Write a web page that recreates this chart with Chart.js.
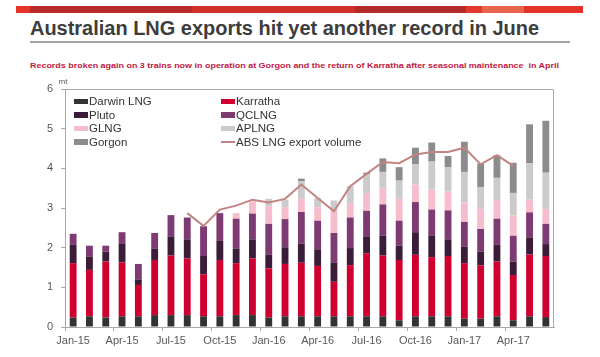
<!DOCTYPE html>
<html>
<head>
<meta charset="utf-8">
<script src="https://cdn.jsdelivr.net/npm/chart.js@4"></script>
<style>
  html, body { margin:0; padding:0; background:#fff; }
  body { width:600px; height:357px; position:relative; overflow:hidden; font-family:"Liberation Sans", Arial, sans-serif; }
  #band { position:absolute; left:16px; top:6px; width:567px; height:7px;
    background: linear-gradient(to right, #e5332a 0px, #e5332a 14px, #b92b2b 14px, #b92b2b 176px, #cf3029 176px, #cf3029 339px, #b42b2b 339px, #b42b2b 450px, #e3382c 450px, #e3382c 466px, #e8654d 466px, #e8654d 508px, #e5332a 508px); }
  #title { position:absolute; left:30px; top:18.4px; font-size:20px; line-height:20px; font-weight:bold; color:#3d3d3d; white-space:nowrap; transform-origin:0 0; }
  #rule { position:absolute; left:30px; top:41px; width:540px; height:1.5px; background:#a3a3a3; }
  #sub { position:absolute; left:30px; top:61.5px; font-size:7.5px; line-height:8px; font-weight:bold; color:#c2173f; white-space:nowrap; transform-origin:0 0; }
  #unit { position:absolute; left:58.5px; top:77px; font-size:8px; line-height:9px; color:#555; }
  #wrap { position:absolute; left:0; top:0; width:600px; height:357px; }
  #legend { position:absolute; left:0; top:0; }
  .li { position:absolute; height:14px; font-size:11.5px; line-height:14px; color:#333; white-space:nowrap; }
  .sw { position:absolute; left:0; top:4.5px; width:14px; height:5.5px; }
  .ln { position:absolute; left:0; top:6.5px; width:14px; height:1.5px; }
  .lt { position:absolute; left:15px; top:0; }
</style>
</head>
<body>
<div id="band"></div>
<div id="title">Australian LNG exports hit yet another record in June</div>
<div id="rule"></div>
<div id="sub">Records broken again on 3 trains now in operation at Gorgon and the return of Karratha after seasonal maintenance&nbsp; in April</div>
<div id="wrap"><canvas id="c" width="600" height="357"></canvas></div>
<div id="unit">mt</div>
<div id="legend"></div>
<script>
// ---- data ----
const months = ["Jan-15","Feb-15","Mar-15","Apr-15","May-15","Jun-15","Jul-15","Aug-15","Sep-15","Oct-15","Nov-15","Dec-15",
  "Jan-16","Feb-16","Mar-16","Apr-16","May-16","Jun-16","Jul-16","Aug-16","Sep-16","Oct-16","Nov-16","Dec-16",
  "Jan-17","Feb-17","Mar-17","Apr-17","May-17","Jun-17"];
const darwinLNG = [0.24,0.27,0.24,0.27,0.27,0.30,0.30,0.30,0.27,0.27,0.30,0.30,0.24,0.27,0.27,0.27,0.27,0.27,0.27,0.27,0.17,0.27,0.27,0.27,0.21,0.21,0.27,0.17,0.27,0.25];
const karratha  = [1.37,1.17,1.41,1.36,0.79,1.39,1.50,1.43,1.06,1.42,1.31,1.43,1.24,1.32,1.35,1.27,0.87,1.29,1.59,1.53,1.52,1.55,1.49,1.52,1.40,1.34,1.38,1.14,1.56,1.54];
const pluto     = [0.46,0.34,0.25,0.48,0.14,0.28,0.47,0.48,0.46,0.48,0.36,0.48,0.34,0.42,0.48,0.42,0.49,0.43,0.41,0.50,0.36,0.57,0.55,0.42,0.42,0.35,0.42,0.34,0.43,0.30];
const qclng     = [0.28,0.27,0.15,0.28,0.39,0.40,0.55,0.55,0.75,0.70,0.76,0.65,0.78,0.71,0.80,0.72,0.74,0.77,0.66,0.79,0.63,0.76,0.65,0.73,0.62,0.57,0.66,0.65,0.63,0.51];
const glng      = [0,0,0,0,0,0,0,0,0,0,0.14,0.31,0.44,0.30,0.33,0.34,0.57,0.37,0.45,0.42,0.55,0.44,0.51,0.47,0.49,0.51,0.47,0.51,0.32,0.38];
const aplng     = [0,0,0,0,0,0,0,0,0,0,0,0,0.19,0.19,0.45,0.23,0.25,0.42,0.47,0.40,0.46,0.51,0.70,0.62,0.77,0.55,0.56,0.57,0.92,0.91];
const gorgon    = [0,0,0,0,0,0,0,0,0,0,0,0,0,0,0.06,0,0,0,0.04,0.34,0.34,0.42,0.48,0.28,0.76,0.59,0.57,0.76,0.98,1.31];
const absVolume = [null,null,null,null,null,null,null,2.87,2.55,2.96,3.06,3.21,3.14,3.23,3.59,3.25,2.92,3.55,3.86,4.16,4.13,4.35,4.41,4.41,4.52,4.10,4.33,4.06,null,null];
const yTicks = [0,1,2,3,4,5,6];
const xTickLabels = ["Jan-15","Apr-15","Jul-15","Oct-15","Jan-16","Apr-16","Jul-16","Oct-16","Jan-17","Apr-17"];

const barSeries = [
  {label:"Darwin LNG", data:darwinLNG, color:"#333333"},
  {label:"Karratha",   data:karratha,  color:"#cf0030"},
  {label:"Pluto",      data:pluto,     color:"#3b1c39"},
  {label:"QCLNG",      data:qclng,     color:"#7e3a72"},
  {label:"GLNG",       data:glng,      color:"#f6bdcc"},
  {label:"APLNG",      data:aplng,     color:"#cbcbcb"},
  {label:"Gorgon",     data:gorgon,    color:"#8c8c8c"}
];
const lineSeries = {label:"ABS LNG export volume", data:absVolume, color:"#c38383"};

const datasets = barSeries.map(s => ({
  type:'bar', label:s.label, data:s.data, backgroundColor:s.color, borderWidth:0,
  stack:'s', order:1, barPercentage:0.42, categoryPercentage:1.0
}));
datasets.push({
  type:'line', label:lineSeries.label, data:lineSeries.data, borderColor:lineSeries.color,
  borderWidth:2, pointRadius:0, fill:false, tension:0, order:0, spanGaps:false
});

const frame = {
  id:'frame',
  afterDraw(chart){
    const {ctx, chartArea:a} = chart;
    ctx.save();
    ctx.strokeStyle = '#a8a8a8';
    ctx.lineWidth = 1;
    ctx.beginPath();
    ctx.moveTo(a.left, a.top + 0.5);
    ctx.lineTo(a.right - 0.5, a.top + 0.5);
    ctx.lineTo(a.right - 0.5, a.bottom);
    ctx.stroke();
    ctx.restore();
  }
};

const font = {family:'"Liberation Sans", Arial, sans-serif', size:11};

new Chart(document.getElementById('c'), {
  data:{ labels:months, datasets },
  plugins:[frame],
  options:{
    responsive:false, animation:false, devicePixelRatio:1,
    layout:{ padding:{left:38, right:46, top:89, bottom:0} },
    plugins:{ legend:{display:false}, tooltip:{enabled:false} },
    scales:{
      x:{
        stacked:true, offset:true,
        grid:{ offset:true, drawOnChartArea:false, tickLength:4,
               tickColor:(c)=> (c.index % 3 === 0 ? '#a8a8a8' : 'rgba(0,0,0,0)') },
        border:{ color:'#a8a8a8' },
        ticks:{ autoSkip:false, maxRotation:0, padding:3, font, color:'#595959',
                callback:(v,i)=> xTickLabels.includes(months[i]) ? months[i] : '' },
        afterFit:(s)=>{ s.height = 30; }
      },
      y:{
        stacked:true, min:0, max:6,
        grid:{ drawOnChartArea:false, tickLength:4, color:'#a8a8a8' },
        border:{ color:'#a8a8a8' },
        ticks:{ stepSize:1, padding:8, font, color:'#595959',
                callback:(v)=> yTicks.includes(v) ? String(v) : '' },
        afterFit:(s)=>{ s.width = 27; }
      }
    }
  }
});

// ---- legend (HTML, real text) ----
const legendItems = [
  barSeries[0], barSeries[1], barSeries[2], barSeries[3], barSeries[4], barSeries[5], barSeries[6], lineSeries
];
const colX = [74, 221];
const rowY = [94, 107.5, 121, 134.5];
const lg = document.getElementById('legend');
// order: col1 = Darwin, Pluto, GLNG, Gorgon; col2 = Karratha, QCLNG, APLNG, ABS
const layout = [[0,0,0],[1,1,0],[2,0,1],[3,1,1],[4,0,2],[5,1,2],[6,0,3],[7,1,3]];
layout.forEach(([k,col,row])=>{
  const it = legendItems[k];
  const d = document.createElement('div');
  d.className = 'li';
  d.style.left = colX[col] + 'px';
  d.style.top = rowY[row] + 'px';
  const sw = document.createElement('div');
  sw.className = (it === lineSeries) ? 'ln' : 'sw';
  sw.style.background = it.color;
  const t = document.createElement('span');
  t.className = 'lt';
  t.textContent = it.label;
  d.appendChild(sw); d.appendChild(t);
  lg.appendChild(d);
});

// fit header texts to measured widths
function fitWidth(id, w){
  const el = document.getElementById(id);
  const nat = el.getBoundingClientRect().width;
  el.style.transform = 'scaleX(' + (w / nat) + ')';
}
fitWidth('title', 509);
fitWidth('sub', 529);
</script>
</body>
</html>
